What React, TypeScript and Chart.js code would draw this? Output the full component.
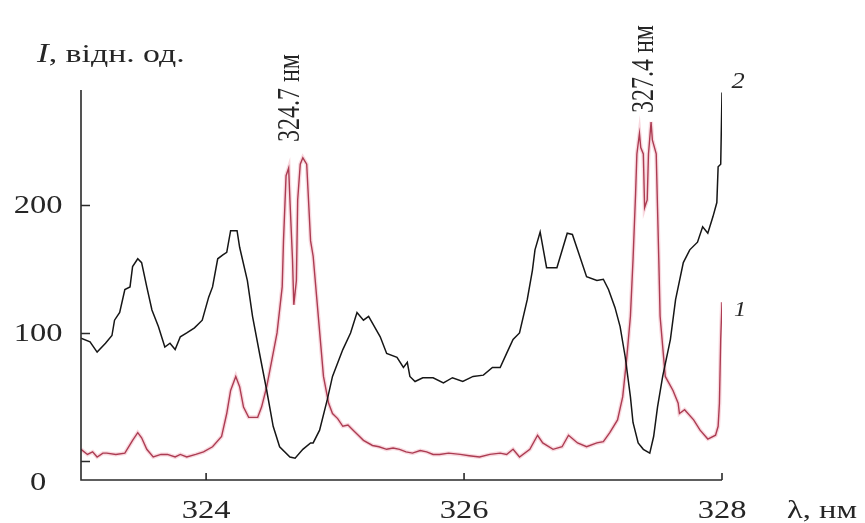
import React, { useEffect, useRef } from "react";
import { Chart, registerables } from "chart.js";

Chart.register(...registerables);

// Curve 1 (red): [wavelength nm, intensity]
const curve1: [number, number][] = [
  [323.03, 9], [323.08, 5], [323.12, 7], [323.155, 3], [323.2, 6], [323.23, 6], [323.3, 5], [323.37, 6],
  [323.43, 16], [323.47, 22], [323.5, 18], [323.54, 9], [323.59, 3], [323.65, 5], [323.7, 5], [323.76, 3],
  [323.8, 5], [323.85, 3], [323.92, 5], [323.98, 7], [324.05, 11], [324.12, 19], [324.16, 37], [324.19, 55],
  [324.23, 66], [324.26, 58], [324.29, 42], [324.33, 34], [324.4, 34], [324.43, 42], [324.47, 58], [324.51, 79],
  [324.55, 100], [324.59, 136], [324.6, 172], [324.62, 223], [324.64, 229], [324.65, 204], [324.67, 157],
  [324.68, 122], [324.7, 141], [324.71, 204], [324.73, 232], [324.75, 237], [324.78, 232], [324.79, 212],
  [324.81, 172], [324.83, 160], [324.87, 113], [324.91, 66], [324.95, 45], [324.98, 37], [325.02, 33],
  [325.06, 27], [325.1, 28], [325.14, 24], [325.18, 20], [325.22, 16], [325.29, 12], [325.34, 11], [325.4, 9],
  [325.45, 10], [325.5, 9], [325.55, 7], [325.6, 6], [325.66, 8], [325.71, 7], [325.76, 5], [325.81, 5],
  [325.88, 6], [325.97, 5], [326.04, 4], [326.12, 3], [326.2, 5], [326.28, 6], [326.33, 5], [326.38, 9],
  [326.43, 3], [326.51, 9], [326.57, 20], [326.61, 14], [326.69, 9], [326.76, 11], [326.81, 20], [326.88, 14],
  [326.95, 11], [327.03, 14], [327.08, 15], [327.13, 22], [327.19, 32], [327.23, 50], [327.26, 79],
  [327.29, 113], [327.31, 157], [327.33, 209], [327.34, 240], [327.36, 256], [327.37, 245], [327.39, 240],
  [327.4, 198], [327.42, 204], [327.43, 240], [327.45, 265], [327.46, 251], [327.49, 240], [327.5, 198],
  [327.51, 157], [327.52, 113], [327.56, 66], [327.62, 55], [327.66, 45], [327.67, 37], [327.71, 40],
  [327.78, 32], [327.83, 24], [327.89, 17], [327.95, 20], [327.97, 27], [327.98, 45], [327.99, 95], [328.0, 124],
];

// Curve 2 (black): [wavelength nm, intensity]
const curve2: [number, number][] = [
  [323.03, 96], [323.1, 93], [323.155, 85], [323.22, 92], [323.27, 98], [323.29, 110], [323.33, 116],
  [323.37, 134], [323.41, 136], [323.43, 152], [323.47, 158], [323.5, 155], [323.54, 136], [323.58, 118],
  [323.63, 105], [323.68, 89], [323.72, 92], [323.76, 87], [323.8, 97], [323.85, 100], [323.91, 104],
  [323.97, 110], [324.02, 128], [324.05, 136], [324.09, 158], [324.13, 161], [324.16, 163], [324.19, 180],
  [324.24, 180], [324.26, 167], [324.32, 141], [324.36, 113], [324.42, 81], [324.47, 55], [324.52, 27],
  [324.57, 11], [324.65, 3], [324.69, 2], [324.75, 9], [324.81, 14], [324.83, 14], [324.88, 24], [324.94, 48],
  [324.98, 66], [325.06, 87], [325.12, 100], [325.17, 116], [325.22, 110], [325.26, 113], [325.35, 97],
  [325.4, 84], [325.48, 81], [325.53, 73], [325.56, 77], [325.58, 66], [325.62, 62], [325.68, 65], [325.76, 65],
  [325.84, 61], [325.91, 65], [325.99, 62], [326.07, 66], [326.15, 67], [326.22, 73], [326.28, 73],
  [326.33, 84], [326.38, 95], [326.43, 100], [326.49, 126], [326.53, 149], [326.55, 165], [326.59, 179],
  [326.64, 151], [326.72, 151], [326.8, 178], [326.84, 177], [326.88, 165], [326.95, 144], [327.03, 141],
  [327.08, 142], [327.12, 134], [327.17, 120], [327.21, 105], [327.25, 81], [327.29, 50], [327.31, 30],
  [327.35, 14], [327.39, 9], [327.44, 6], [327.47, 19], [327.5, 42], [327.54, 66], [327.6, 95], [327.64, 126],
  [327.7, 155], [327.75, 165], [327.81, 171], [327.85, 183], [327.89, 178], [327.93, 191], [327.96, 202],
  [327.97, 230], [327.99, 232], [328.0, 288],
];

const xTicks = [324, 326, 328];
const yTicks = [0, 100, 200];
const peakLabels: [number, string][] = [[324.7, "324.7 нм"], [327.4, "327.4 нм"]];
const curveNames = ["1", "2"];
const yTitleItalic = "I";
const yTitleRest = ", відн. од.";
const xTitle = "λ, нм";

const SERIF = "'Liberation Serif', 'DejaVu Serif', serif";
const INK = "#262626";

function txt(
  ctx: CanvasRenderingContext2D, s: string, x: number, y: number, font: string,
  sx: number, align: CanvasTextAlign, baseline: CanvasTextBaseline, rot = false
) {
  ctx.save();
  ctx.translate(x, y);
  ctx.scale(sx, 1);
  if (rot) ctx.rotate(-Math.PI / 2);
  ctx.font = font;
  ctx.fillStyle = INK;
  ctx.textAlign = align;
  ctx.textBaseline = baseline;
  ctx.fillText(s, 0, 0);
  ctx.restore();
}

const decorPlugin = {
  id: "decor",
  afterDraw(chart: any) {
    const ctx: CanvasRenderingContext2D = chart.ctx;
    const xs = chart.scales.x;
    const ys = chart.scales.y;
    const { left, right, top, bottom } = chart.chartArea;
    ctx.save();
    ctx.strokeStyle = "#2a2a2a";
    ctx.lineWidth = 1.6;
    ctx.beginPath();
    ctx.moveTo(left, top);
    ctx.lineTo(left, bottom);
    ctx.lineTo(right, bottom);
    for (const v of yTicks) {
      const p = Math.round(ys.getPixelForValue(v)) + 0.5;
      ctx.moveTo(left, p);
      ctx.lineTo(left + 9, p);
    }
    for (const v of xTicks) {
      const p = xs.getPixelForValue(v);
      ctx.moveTo(p, bottom);
      ctx.lineTo(p, bottom - 7);
    }
    ctx.stroke();
    ctx.restore();

    const SX = 1.25;
    const tickFont = `26px ${SERIF}`;
    for (const v of xTicks) {
      txt(ctx, String(v), xs.getPixelForValue(v), bottom + 38, tickFont, SX, "center", "alphabetic");
    }
    for (const v of yTicks) {
      const y = v === 0 ? bottom + 10 : ys.getPixelForValue(v) + 8;
      txt(ctx, String(v), left - 43, y, tickFont, SX, "center", "alphabetic");
    }
    txt(ctx, xTitle, 787, bottom + 38, `26px ${SERIF}`, SX, "left", "alphabetic");

    // y title
    ctx.save();
    ctx.font = `italic 27px ${SERIF}`;
    const iw = ctx.measureText(yTitleItalic).width * 1.3;
    ctx.restore();
    txt(ctx, yTitleItalic, 37, 62, `italic 27px ${SERIF}`, 1.3, "left", "alphabetic");
    txt(ctx, yTitleRest, 37 + iw, 62, `26px ${SERIF}`, 1.3, "left", "alphabetic");

    // peak annotations (rotated)
    const peakBottoms = [142, 113];
    peakLabels.forEach(([w, s], i) => {
      const x = xs.getPixelForValue(w) + (i === 0 ? -6 : 0);
      txt(ctx, s, x, peakBottoms[i], `24px ${SERIF}`, 1.35, "left", "middle", true);
    });

    // curve numbers
    txt(ctx, curveNames[1], 738, 88, `italic 24px ${SERIF}`, 1.1, "center", "alphabetic");
    txt(ctx, curveNames[0], 740, 316, `italic 22px ${SERIF}`, 1.1, "center", "alphabetic");
  },
};

export default function App() {
  const ref = useRef<HTMLCanvasElement | null>(null);
  useEffect(() => {
    if (!ref.current) return;
    const toPts = (a: [number, number][]) => a.map(([x, y]) => ({ x, y }));
    const chart = new Chart(ref.current, {
      type: "line",
      data: {
        datasets: [
          {
            data: toPts(curve2),
            borderColor: "#161616",
            borderWidth: 1.5,
            pointRadius: 0,
            tension: 0,
          },
          {
            data: toPts(curve1),
            borderColor: "rgba(232,130,150,0.3)",
            borderWidth: 4,
            pointRadius: 0,
            tension: 0,
          },
          {
            data: toPts(curve1),
            borderColor: "#931f36",
            borderWidth: 1.4,
            pointRadius: 0,
            tension: 0,
          },
        ],
      },
      options: {
        animation: false,
        responsive: false,
        devicePixelRatio: 1,
        parsing: false,
        layout: { padding: { left: 81, right: 143, top: 90, bottom: 43 } },
        plugins: { legend: { display: false }, tooltip: { enabled: false } },
        scales: {
          x: { type: "linear", min: 323.03, max: 328, display: false },
          y: { type: "linear", min: -15, max: 290, display: false },
        },
      },
      plugins: [decorPlugin],
    });
    return () => chart.destroy();
  }, []);
  return (
    <div style={{ position: "absolute", left: 0, top: 0, width: 865, height: 523, background: "#fff" }}>
      <canvas ref={ref} width={865} height={523} style={{ display: "block" }} />
    </div>
  );
}
